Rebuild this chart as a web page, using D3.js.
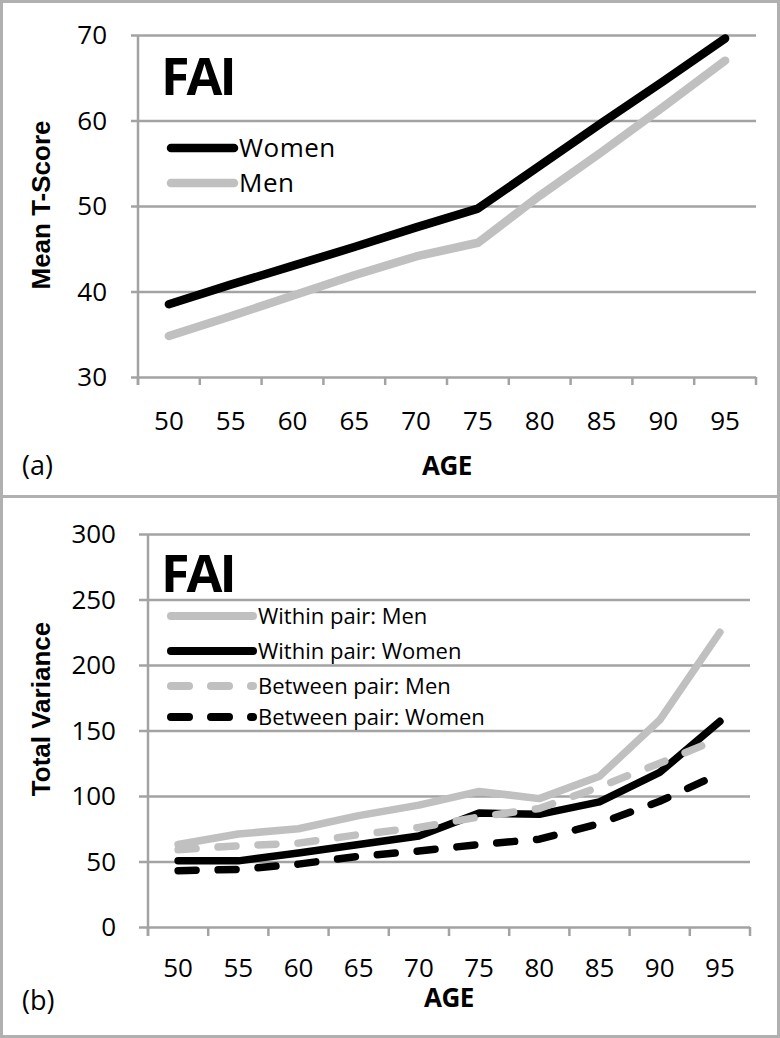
<!DOCTYPE html>
<html>
<head>
<meta charset="utf-8">
<script src="https://cdn.jsdelivr.net/npm/d3@7"></script>
<style>
  html, body { margin: 0; padding: 0; background: #fff; }
  svg { display: block; }
</style>
</head>
<body>
<svg id="chart" width="780" height="1038"></svg>
<script>
// ---------- data ----------
const ages = ["50", "55", "60", "65", "70", "75", "80", "85", "90", "95"];

// panel (a): mean T-score
const womenMean = [38.5, 40.8, 43.0, 45.2, 47.5, 49.7, 54.7, 59.7, 64.6, 69.6];
const menMean   = [34.8, 37.1, 39.5, 41.9, 44.1, 45.7, 51.2, 56.3, 61.6, 67.0];
const topTicks  = [30, 40, 50, 60, 70];

// panel (b): total variance
const withinMen     = [63, 71, 75, 85, 93, 103.5, 98, 115, 158, 225];
const withinWomen   = [50.5, 50.5, 56.5, 63, 69.5, 87, 86, 95.5, 118, 157];
const betweenMen    = [59, 62, 64, 70.5, 76, 84, 90.5, 107, 125, 144];
const betweenWomen  = [43, 44, 48, 54, 58, 63, 67, 79, 96, 117];
const bottomTicks   = [0, 50, 100, 150, 200, 250, 300];

const topSeries = [
  { name: "Women", values: womenMean, color: "#000000", dash: null },
  { name: "Men",   values: menMean,   color: "#c0c0c0", dash: null }
];
const bottomSeries = [
  { name: "Within pair: Men",     values: withinMen,    color: "#c0c0c0", dash: null },
  { name: "Within pair: Women",   values: withinWomen,  color: "#000000", dash: null },
  { name: "Between pair: Men",    values: betweenMen,   color: "#c0c0c0", dash: "18,22" },
  { name: "Between pair: Women",  values: betweenWomen, color: "#000000", dash: "18,22" }
];

// ---------- drawing ----------
const svg = d3.select("#chart");
const GRID = "#a3a3a3";
const TICKFONT = "'Open Sans', 'Noto Sans', sans-serif";
const AXFONT = "'Liberation Sans', Arial, sans-serif";

// outer frame & separator
svg.append("rect").attr("x", 1.5).attr("y", 1.5).attr("width", 777).attr("height", 1035)
  .attr("fill", "none").attr("stroke", "#b0b0b0").attr("stroke-width", 3);
svg.append("line").attr("x1", 0).attr("x2", 780).attr("y1", 496.5).attr("y2", 496.5)
  .attr("stroke", "#b0b0b0").attr("stroke-width", 3);

function panel(cfg) {
  const g = svg.append("g");
  const x = d3.scaleBand().domain(ages).range([cfg.left, cfg.right]);
  const y = d3.scaleLinear().domain(cfg.domain).range([cfg.bottom, cfg.top]);

  // gridlines (with left tick stubs)
  const yAxis = d3.axisLeft(y).tickValues(cfg.ticks)
    .tickSize(-(cfg.right - cfg.left)).tickFormat("");
  const ga = g.append("g").attr("transform", `translate(${cfg.left},0)`).call(yAxis);
  ga.select(".domain").remove();
  ga.selectAll(".tick line").attr("x1", -cfg.stub).attr("stroke", GRID).attr("stroke-width", 2.5);

  // y tick labels
  g.selectAll(".ylab").data(cfg.ticks).enter().append("text")
    .attr("x", cfg.left - cfg.labelGap).attr("y", d => y(d))
    .attr("dy", "0.36em").attr("text-anchor", "end")
    .attr("font-family", TICKFONT).attr("font-size", cfg.tickFs).attr("fill", "#000")
    .text(d => d);

  // vertical axis line
  g.append("line").attr("x1", cfg.left).attr("x2", cfg.left)
    .attr("y1", y(cfg.domain[1])).attr("y2", y(cfg.domain[0]) + cfg.tickLen)
    .attr("stroke", GRID).attr("stroke-width", 2.5);

  // x category boundary ticks
  const bounds = ages.map(a => x(a)).concat([x(ages[ages.length - 1]) + x.bandwidth()]);
  g.selectAll(".xt").data(bounds).enter().append("line")
    .attr("x1", d => d).attr("x2", d => d)
    .attr("y1", y(cfg.domain[0])).attr("y2", y(cfg.domain[0]) + cfg.tickLen)
    .attr("stroke", GRID).attr("stroke-width", 2.5);

  // x labels
  const xAxis = d3.axisBottom(x).tickSize(0).tickPadding(0);
  const gx = g.append("g").attr("transform", `translate(0,${cfg.xLabelY})`).call(xAxis);
  gx.select(".domain").remove();
  gx.selectAll("text").attr("font-family", TICKFONT).attr("font-size", cfg.tickFs)
    .attr("fill", "#000").attr("dy", 0);

  // lines
  const line = d3.line().x((d, i) => x(ages[i]) + x.bandwidth() / 2).y(d => y(d));
  cfg.series.forEach(s => {
    g.append("path").datum(s.values).attr("d", line)
      .attr("fill", "none").attr("stroke", s.color).attr("stroke-width", cfg.lineW)
      .attr("stroke-linecap", "round").attr("stroke-linejoin", "round")
      .attr("stroke-dasharray", s.dash);
  });

  // FAI title
  g.append("text").attr("x", 161).attr("y", cfg.faiY)
    .attr("font-family", TICKFONT).attr("font-weight", "bold").attr("font-size", 52)
    .attr("letter-spacing", -3).text("FAI");

  // legend
  cfg.series.forEach((s, i) => {
    const ly = cfg.legendY[i];
    g.append("line").attr("x1", 171).attr("x2", cfg.legendX2)
      .attr("y1", ly).attr("y2", ly)
      .attr("stroke", s.color).attr("stroke-width", cfg.legendW)
      .attr("stroke-linecap", "round").attr("stroke-dasharray", s.dash);
    g.append("text").attr("x", cfg.legendX2 + 5).attr("y", ly).attr("dy", "0.36em")
      .attr("font-family", TICKFONT).attr("font-size", cfg.legendFs).attr("fill", "#000")
      .attr("letter-spacing", cfg.legendLs)
      .text(s.name);
  });

  // axis titles
  g.append("text").attr("x", (cfg.left + cfg.right) / 2).attr("y", cfg.ageY)
    .attr("text-anchor", "middle").attr("font-family", TICKFONT).attr("font-weight", "bold")
    .attr("font-size", 26).attr("letter-spacing", -0.5).text("AGE");
  g.append("text").attr("transform", `translate(${50},${cfg.yTitleY}) rotate(-90)`)
    .attr("text-anchor", "middle").attr("font-family", AXFONT).attr("font-weight", "bold")
    .attr("font-size", 26).text(cfg.yTitle);
  g.append("text").attr("x", 22).attr("y", cfg.tagY)
    .attr("font-family", TICKFONT).attr("font-size", 27).text(cfg.tag);
}

panel({
  left: 138, right: 756, top: 35, bottom: 377, domain: [30, 70], ticks: topTicks,
  stub: 7, tickLen: 8, labelGap: 31, tickFs: 26, xLabelY: 430, lineW: 8.5,
  series: topSeries, faiY: 95, legendY: [148, 183], legendX2: 234, legendW: 8.5, legendFs: 26,
  legendLs: 0.5,
  ageY: 475, yTitle: "Mean T-Score", yTitleY: 205, tag: "(a)", tagY: 475
});

panel({
  left: 148, right: 750, top: 534, bottom: 927, domain: [0, 300], ticks: bottomTicks,
  stub: 9, tickLen: 9, labelGap: 32, tickFs: 26, xLabelY: 977, lineW: 7.5,
  series: bottomSeries, faiY: 592, legendY: [616, 651, 686, 717], legendX2: 253, legendW: 8, legendFs: 22,
  legendLs: 0,
  ageY: 1007, yTitle: "Total Variance", yTitleY: 709, tag: "(b)", tagY: 1010
});
</script>
</body>
</html>
